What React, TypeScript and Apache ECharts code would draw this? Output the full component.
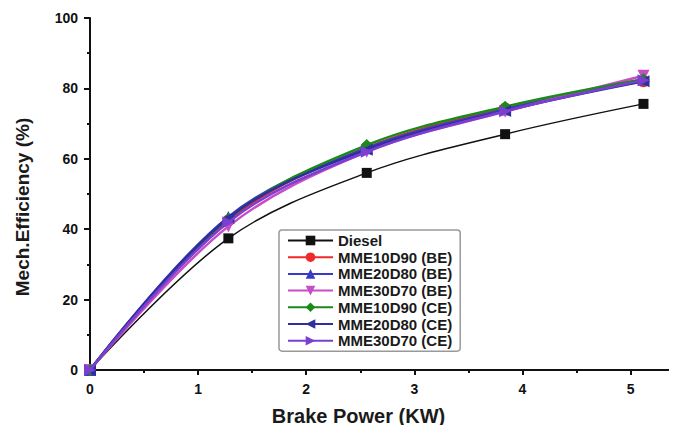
import React, { useEffect, useRef } from "react";
import * as echarts from "echarts";

const xValues = [0, 1.28, 2.56, 3.84, 5.12];
const seriesNames = [
  "Diesel",
  "MME10D90 (BE)",
  "MME20D80 (BE)",
  "MME30D70 (BE)",
  "MME10D90 (CE)",
  "MME20D80 (CE)",
  "MME30D70 (CE)",
];
const diesel = [0, 37.4, 56.0, 67.0, 75.6];
const mme10BE = [0, 42.5, 63.2, 74.3, 82.0];
const mme20BE = [0, 43.5, 63.0, 74.0, 82.5];
const mme30BE = [0, 40.8, 62.0, 73.4, 83.6];
const mme10CE = [0, 43.0, 63.9, 74.8, 82.6];
const mme20CE = [0, 43.2, 62.6, 73.6, 82.0];
const mme30CE = [0, 42.0, 62.0, 73.5, 82.3];
const seriesValues = [diesel, mme10BE, mme20BE, mme30BE, mme10CE, mme20CE, mme30CE];
const colors = ["#111111", "#ee2a2a", "#3a3ac8", "#c84cc8", "#1a8a1a", "#2e2e9e", "#7a3fd0"];
const symbols = ["rect", "circle", "triangle", "triangle", "diamond", "triangle", "triangle"];
const rotations = [0, 0, 0, 180, 0, 90, -90];

export default function App() {
  const ref = useRef<HTMLDivElement>(null);
  useEffect(() => {
    if (!ref.current) return;
    const chart = echarts.init(ref.current, null, { renderer: "svg" });
    const font = "Liberation Sans, Arial, sans-serif";
    chart.setOption({
      animation: false,
      backgroundColor: "#ffffff",
      grid: { left: 90, top: 18, right: 0, bottom: 63, containLabel: false },
      xAxis: {
        type: "value",
        min: 0,
        max: 5.43,
        interval: 1,
        name: "Brake Power (KW)",
        nameLocation: "middle",
        nameGap: 36,
        nameTextStyle: {
          fontFamily: font,
          fontWeight: "bold",
          fontSize: 20,
          color: "#1a1a1a",
          padding: [0, 50, 0, 0],
        },
        axisLine: { lineStyle: { color: "#111", width: 2 } },
        axisTick: { show: true, length: 5, lineStyle: { width: 2, color: "#111" } },
        minorTick: { show: true, splitNumber: 2, length: 3, lineStyle: { width: 2, color: "#111" } },
        axisLabel: {
          fontFamily: font,
          fontWeight: "bold",
          fontSize: 14,
          color: "#111",
          margin: 12,
          showMaxLabel: false,
        },
        splitLine: { show: false },
      },
      yAxis: {
        type: "value",
        min: 0,
        max: 100,
        interval: 20,
        name: "Mech.Efficiency (%)",
        nameLocation: "middle",
        nameGap: 58,
        nameTextStyle: {
          fontFamily: font,
          fontWeight: "bold",
          fontSize: 19,
          color: "#1a1a1a",
          padding: [0, 26, 0, 0],
        },
        axisLine: { show: true, lineStyle: { color: "#111", width: 2 } },
        axisTick: { show: true, length: 6, lineStyle: { width: 2, color: "#111" } },
        minorTick: { show: true, splitNumber: 2, length: 3, lineStyle: { width: 2, color: "#111" } },
        axisLabel: { fontFamily: font, fontWeight: "bold", fontSize: 14, color: "#111", margin: 12 },
        splitLine: { show: false },
      },
      legend: {
        orient: "vertical",
        left: 279,
        top: 230,
        padding: [3, 8, 3, 8],
        itemGap: 1.7,
        itemWidth: 45,
        itemHeight: 12,
        borderColor: "#999",
        borderWidth: 1.5,
        borderRadius: 3,
        backgroundColor: "#fff",
        textStyle: {
          fontFamily: font,
          fontWeight: "bold",
          fontSize: 15,
          lineHeight: 15,
          color: "#1a1a1a",
        },
        data: seriesNames,
      },
      series: seriesNames.map((name, i) => ({
        name,
        type: "line",
        smooth: 0.35,
        data: xValues.map((x, j) => [x, seriesValues[i][j]]),
        symbol: symbols[i],
        symbolRotate: rotations[i],
        symbolSize: i === 0 ? 10 : 12,
        lineStyle: { color: colors[i], width: i === 0 ? 1.5 : 2.5 },
        itemStyle: { color: colors[i] },
        z: i === 0 ? 2 : 3 + i,
      })),
    });
    return () => chart.dispose();
  }, []);
  return <div ref={ref} style={{ width: 677, height: 433, margin: -8 }} />;
}
